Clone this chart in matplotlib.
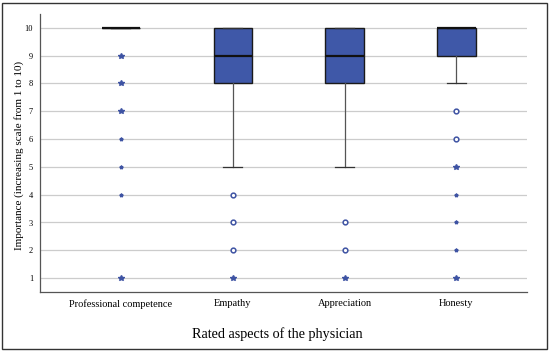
import matplotlib
matplotlib.use("Agg")
import matplotlib.pyplot as plt
from matplotlib.patches import Rectangle

categories = ["Professional competence", "Empathy", "Appreciation", "Honesty"]
q1 = [10, 8, 8, 9]
median = [10, 9, 9, 10]
q3 = [10, 10, 10, 10]
whisker_low = [10, 5, 5, 8]
whisker_high = [10, 10, 10, 10]

# outliers
circle_cat = [1, 1, 1, 2, 2, 3, 3]
circle_val = [4, 3, 2, 3, 2, 7, 6]
star_big_cat = [0, 0, 0, 0, 1, 2, 3, 3]
star_big_val = [9, 8, 7, 1, 1, 1, 5, 1]
star_small_cat = [0, 0, 0, 3, 3, 3]
star_small_val = [6, 5, 4, 4, 3, 2]

yticks = list(range(1, 11))

fig = plt.figure(figsize=(5.5, 3.53), dpi=100)
fig.patches.append(Rectangle((2/550, 4/353), 545/550, 346/353, transform=fig.transFigure,
                             fill=False, edgecolor="#333333", linewidth=1.0))
ax = fig.add_axes([40/550, (353-292)/353, 487/550, (292-14)/353])

serif = ["Liberation Serif", "DejaVu Serif"]
box_color = "#3F58A8"
mark_color = "#3E53A3"

for y in yticks:
    ax.axhline(y, color="#cccccc", linewidth=0.9, zorder=0)

positions = list(range(1, len(categories) + 1))
stats = []
for i in range(len(categories)):
    stats.append(dict(q1=q1[i], med=median[i], q3=q3[i], whislo=whisker_low[i],
                      whishi=whisker_high[i], fliers=[], label=categories[i]))
ax.bxp(stats, positions=positions, widths=0.34, patch_artist=True, showfliers=False,
       boxprops=dict(facecolor=box_color, edgecolor="#1a1a1a", linewidth=1.0),
       medianprops=dict(color="#111111", linewidth=1.6),
       whiskerprops=dict(color="#555555", linewidth=0.9),
       capprops=dict(color="#333333", linewidth=0.9), capwidths=0.17, zorder=3)

ax.plot([positions[c] for c in circle_cat], circle_val, linestyle="none", marker="o",
        markersize=3.4, markerfacecolor="white", markeredgecolor=mark_color,
        markeredgewidth=1.1, zorder=4)
ax.plot([positions[c] for c in star_big_cat], star_big_val, linestyle="none", marker="*",
        markersize=4.3, color=mark_color, zorder=4)
ax.plot([positions[c] for c in star_small_cat], star_small_val, linestyle="none", marker="*",
        markersize=2.7, color=mark_color, zorder=4)

ax.set_xlim(0.28, 4.63)
ax.set_ylim(0.5, 10.5)
ax.set_yticks(yticks)
ax.set_yticklabels([str(y) for y in yticks], fontfamily=serif, fontsize=6)
ax.set_xticks(positions)
ax.set_xticklabels(categories, fontfamily=serif, fontsize=7.5)
ax.tick_params(axis="x", length=0, pad=5)
ax.tick_params(axis="y", length=0, pad=5)
for s in ["top", "right"]:
    ax.spines[s].set_visible(False)
for s in ["left", "bottom"]:
    ax.spines[s].set_color("#555555")
    ax.spines[s].set_linewidth(0.9)

ax.set_ylabel("Importance (increasing scale from 1 to 10)", fontfamily=serif, fontsize=8)
ax.yaxis.set_label_coords(-16/487, 0.49)
ax.set_xlabel("Rated aspects of the physician", fontfamily=serif, fontsize=10.2)
ax.xaxis.set_label_coords(0.488, -35/278)

fig.savefig("out.png", dpi=100)
